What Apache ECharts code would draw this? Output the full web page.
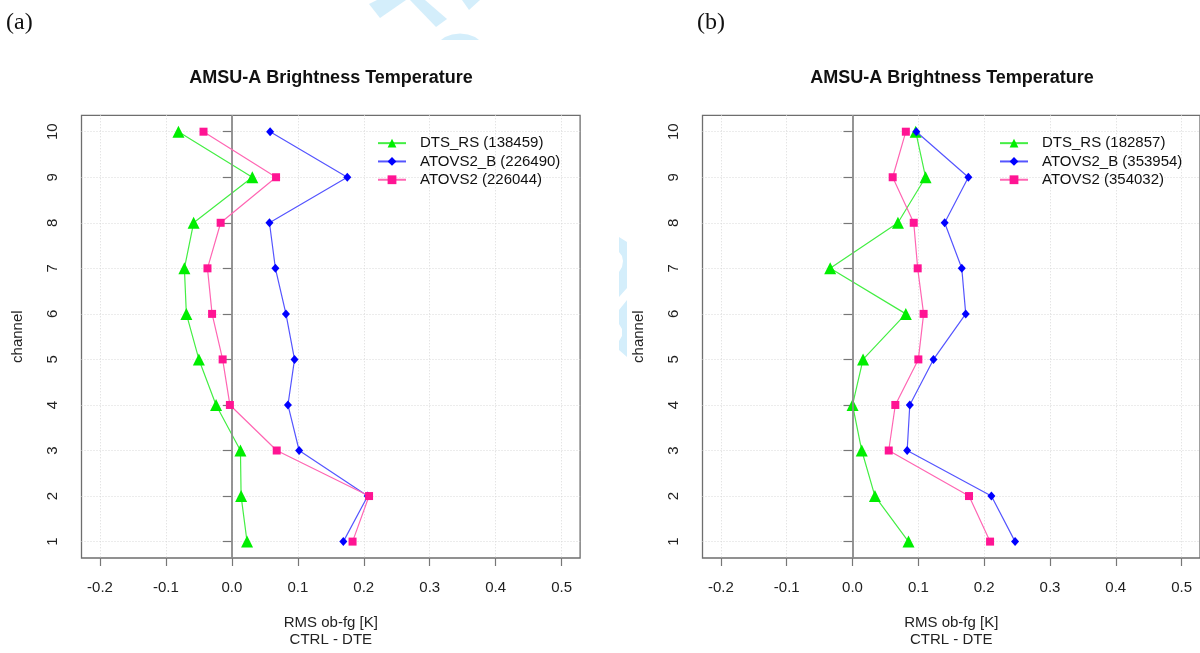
<!DOCTYPE html>
<html>
<head>
<meta charset="utf-8">
<script src="https://cdn.jsdelivr.net/npm/echarts@6/dist/echarts.min.js"></script>
<style>html,body{margin:0;padding:0;background:#fff}#c{width:1200px;height:653px}</style>
</head>
<body>
<div id="c"></div>
<script>
// channels 1..10
const channels = [1, 2, 3, 4, 5, 6, 7, 8, 9, 10];
const xTicks = [-0.2, -0.1, 0.0, 0.1, 0.2, 0.3, 0.4, 0.5];
const xTickLabels = ['-0.2', '-0.1', '0.0', '0.1', '0.2', '0.3', '0.4', '0.5'];

// panel (a)
const namesA = ['DTS_RS (138459)', 'ATOVS2_B (226490)', 'ATOVS2 (226044)'];
const dtsA    = [0.023, 0.014, 0.013, -0.024, -0.050, -0.069, -0.072, -0.058, 0.031, -0.081];
const atovsBA = [0.169, 0.206, 0.102, 0.085, 0.095, 0.082, 0.066, 0.057, 0.175, 0.058];
const atovsA  = [0.183, 0.208, 0.068, -0.003, -0.014, -0.030, -0.037, -0.017, 0.067, -0.043];

// panel (b)
const namesB = ['DTS_RS (182857)', 'ATOVS2_B (353954)', 'ATOVS2 (354032)'];
const dtsB    = [0.085, 0.034, 0.014, 0.000, 0.016, 0.081, -0.034, 0.069, 0.111, 0.096];
const atovsBB = [0.247, 0.211, 0.083, 0.087, 0.123, 0.172, 0.166, 0.140, 0.176, 0.097];
const atovsB  = [0.209, 0.177, 0.055, 0.065, 0.100, 0.108, 0.099, 0.093, 0.061, 0.081];

const titleText = 'AMSU-A Brightness Temperature';
const xName = 'RMS ob-fg [K]\nCTRL - DTE';
const yName = 'channel';

const FONT = 'Liberation Sans, Arial, Helvetica, sans-serif';
const styles = [
  {symbol: 'triangle', size: 12, color: '#00ee00', line: '#44ee44'},
  {symbol: 'diamond', size: [8, 9], color: '#0000ff', line: '#5555ff'},
  {symbol: 'rect', size: 8, color: '#ff1493', line: '#ff66b3'}
];

function pairs(vals) { return vals.map((v, i) => [v, channels[i]]); }

function mkSeries(names, arrs, gi) {
  return arrs.map((arr, k) => {
    const s = {
      type: 'line', name: names[k], xAxisIndex: gi, yAxisIndex: gi,
      data: pairs(arr), symbol: styles[k].symbol, symbolSize: styles[k].size,
      itemStyle: {color: styles[k].color},
      lineStyle: {color: styles[k].line, width: 1.2},
      animation: false, z: 3 + k
    };
    if (k === 0) {
      s.markLine = {
        silent: true, symbol: 'none', animation: false,
        label: {show: false},
        lineStyle: {color: '#8a8a8a', width: 1.8, type: 'solid'},
        data: [{xAxis: 0}]
      };
    }
    return s;
  });
}

function mkX(gi) {
  return {
    type: 'value', gridIndex: gi, min: -0.228, max: 0.528,
    axisLine: {show: false},
    axisTick: {show: true, length: 8, customValues: xTicks, lineStyle: {color: '#777', width: 1.2}},
    axisLabel: {customValues: xTicks, margin: 22, fontSize: 15, color: '#222', fontFamily: FONT,
      formatter: v => xTickLabels[xTicks.findIndex(t => Math.abs(t - v) < 1e-9)] ?? ''},
    splitLine: {show: true, lineStyle: {color: '#d9d9d9', type: [1, 2], width: 1}},
    name: xName, nameLocation: 'middle', nameGap: 56,
    nameTextStyle: {fontSize: 15, lineHeight: 17, color: '#222', fontFamily: FONT, verticalAlign: 'top'}
  };
}
function mkY(gi) {
  return {
    type: 'value', gridIndex: gi, min: 0.64, max: 10.36,
    axisLine: {show: false},
    axisTick: {show: true, length: 9, customValues: channels, lineStyle: {color: '#777', width: 1.2}},
    axisLabel: {customValues: channels, rotate: 90, margin: 21, fontSize: 15, color: '#222',
      fontFamily: FONT, align: 'center', verticalAlign: 'bottom'},
    splitLine: {show: true, lineStyle: {color: '#d9d9d9', type: [1, 2], width: 1}},
    name: yName, nameLocation: 'middle', nameRotate: 90, nameGap: 56,
    nameTextStyle: {fontSize: 15, color: '#222', fontFamily: FONT, align: 'center', verticalAlign: 'bottom'}
  };
}

const legendBase = {
  orient: 'vertical', itemWidth: 28, itemHeight: 11, itemGap: 0, padding: 0,
  textStyle: {fontSize: 15, lineHeight: 18.3, color: '#111', fontFamily: FONT, padding: [0, 0, 0, 9]}
};

const WM = '#d4eefb';
const wmPolys = [
  [[369, 4], [380, 18], [406, 0], [377, 0]],
  [[410, 0], [425, 0], [447, 19], [436, 27]],
  [[462, 0], [480, 0], [469, 10]],
  [[441, 40], [445, 37], [452, 34.5], [460, 33.5], [468, 34.5], [475, 37], [479, 40]],
  [[619, 237], [627, 242], [627, 288], [619, 297], [619, 272], [622, 267], [623, 261], [622, 256], [619, 252]],
  [[619, 310], [627, 300], [627, 357], [619, 350], [619, 341], [622, 336], [622, 329], [619, 324]]
];

const option = {
  backgroundColor: '#fff',
  animation: false,
  graphic: wmPolys.map(p => ({type: 'polygon', shape: {points: p}, style: {fill: WM}, silent: true, z: 0})),
  title: [
    {text: titleText, left: 331, top: 69, textAlign: 'center', padding: 0,
      textStyle: {fontSize: 18, fontWeight: 'bold', color: '#111', fontFamily: FONT}},
    {text: titleText, left: 952, top: 69, textAlign: 'center', padding: 0,
      textStyle: {fontSize: 18, fontWeight: 'bold', color: '#111', fontFamily: FONT}},
    {text: '(a)', left: 6, top: 11, padding: 0,
      textStyle: {fontSize: 24, fontWeight: 'normal', color: '#111', fontFamily: 'Liberation Serif, DejaVu Serif, serif'}},
    {text: '(b)', left: 697, top: 11, padding: 0,
      textStyle: {fontSize: 24, fontWeight: 'normal', color: '#111', fontFamily: 'Liberation Serif, DejaVu Serif, serif'}}
  ],
  legend: [
    Object.assign({}, legendBase, {data: namesA, left: 377, top: 134}),
    Object.assign({}, legendBase, {data: namesB, left: 999, top: 134})
  ],
  grid: [
    {left: 81.5, top: 115.3, width: 498.6, height: 443.8, show: true, borderColor: '#6e6e6e', borderWidth: 1.3, containLabel: false},
    {left: 702.5, top: 115.3, width: 497.5, height: 443.8, show: true, borderColor: '#6e6e6e', borderWidth: 1.3, containLabel: false}
  ],
  xAxis: [mkX(0), mkX(1)],
  yAxis: [mkY(0), mkY(1)],
  series: mkSeries(namesA, [dtsA, atovsBA, atovsA], 0).concat(mkSeries(namesB, [dtsB, atovsBB, atovsB], 1))
};

const chart = echarts.init(document.getElementById('c'), null, {renderer: 'canvas'});
chart.setOption(option);
</script>
</body>
</html>
